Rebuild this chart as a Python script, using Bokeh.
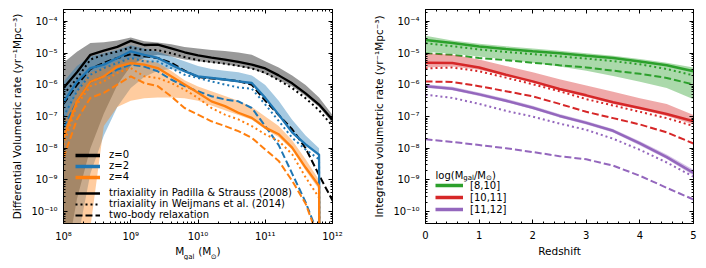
from bokeh.plotting import figure
from bokeh.layouts import row
from bokeh.models import (FixedTicker, LogAxis, LinearAxis, Legend, LegendItem,
                          Label, CustomJSTickFormatter, Range1d)
from bokeh.embed import file_html
from bokeh.resources import INLINE

FONT = "DejaVu Sans"

# ---------------- data: left panel (log10 of rate, yr^-1 Mpc^-3) ----------------
log_mass = [8.0, 8.2, 8.4, 8.6, 8.8, 9.0, 9.2, 9.4, 9.6, 9.8, 10.0,
            10.2, 10.4, 10.6, 10.8, 11.0, 11.2, 11.4, 11.6, 11.8, 12.0]
log_mass_cut = [8.0, 8.2, 8.4, 8.6, 8.8, 9.0, 9.2, 9.4, 9.6, 9.8, 10.0,
                10.2, 10.4, 10.6, 10.8, 11.0, 11.2, 11.4, 11.6, 11.8, 11.81]

z0_padilla = [-6.1, -5.6, -5.05, -4.92, -4.8, -4.61, -4.74, -4.73, -4.85, -4.97, -5.07,
              -5.14, -5.2, -5.27, -5.36, -5.48, -5.7, -5.95, -6.27, -6.62, -7.1]
z0_weijmans = [-6.3, -5.8, -5.2, -5.05, -4.95, -4.82, -4.9, -4.9, -5.0, -5.12, -5.22,
               -5.28, -5.33, -5.4, -5.48, -5.62, -5.85, -6.1, -6.42, -6.8, -7.3]
z0_twobody = [-6.6, -6.0, -5.5, -5.3, -5.15, -5.03, -5.1, -5.15, -5.3, -5.55, -5.75,
              -5.8, -5.83, -5.88, -6.0, -6.5, -6.95, -7.4, -8.0, -8.85, -9.65]
z0_band_hi = [-5.3, -4.95, -4.68, -4.65, -4.6, -4.5, -4.62, -4.66, -4.72, -4.8, -4.85,
              -4.9, -4.93, -4.98, -5.05, -5.25, -5.45, -5.7, -6.0, -6.4, -6.95]
z0_band_lo = [-12.0, -9.6, -8.0, -6.9, -6.0, -5.4, -5.15, -5.05, -5.1, -5.2, -5.25,
              -5.3, -5.35, -5.42, -5.5, -5.65, -5.85, -6.05, -6.35, -6.7, -7.2]

z2_padilla = [-6.55, -5.9, -5.47, -5.36, -5.15, -4.94, -5.05, -5.15, -5.36, -5.57, -5.73,
              -5.78, -5.83, -5.89, -5.94, -6.41, -6.94, -7.5, -7.88, -8.2, -13.0]
z2_weijmans = [-7.0, -6.2, -5.68, -5.47, -5.31, -5.15, -5.26, -5.26, -5.47, -5.68, -5.78,
               -5.89, -5.99, -6.08, -6.12, -6.62, -7.14, -7.67, -8.04, -8.35, -13.0]
z2_twobody = [-7.35, -6.52, -5.9, -5.73, -5.52, -5.36, -5.42, -5.57, -5.83, -6.04, -6.2,
              -6.36, -6.46, -6.52, -6.73, -7.3, -7.9, -8.8, -9.7, -10.8, -13.0]
z2_band_hi = [-5.9, -5.4, -5.1, -5.0, -4.9, -4.75, -4.85, -4.95, -5.1, -5.25, -5.4,
              -5.5, -5.55, -5.6, -5.7, -6.0, -6.5, -7.1, -7.6, -8.0, -13.0]
z2_band_lo = [-14.0, -11.0, -8.8, -7.6, -6.7, -6.1, -5.75, -5.55, -5.5, -5.6, -5.78,
              -5.82, -5.87, -5.92, -5.98, -6.45, -6.98, -7.55, -7.92, -8.25, -13.0]

z4_padilla = [-7.67, -6.52, -5.9, -5.73, -5.42, -5.31, -5.36, -5.47, -5.73, -5.99, -6.25,
              -6.52, -6.67, -6.88, -7.04, -7.35, -7.56, -7.98, -8.61, -9.19, -13.0]
z4_weijmans = [-7.9, -6.62, -6.04, -5.89, -5.62, -5.47, -5.73, -5.78, -5.94, -6.15, -6.41,
               -6.73, -6.94, -7.09, -7.3, -7.56, -7.77, -8.19, -8.92, -9.56, -13.0]
z4_twobody = [-8.3, -7.09, -6.41, -6.25, -5.99, -5.73, -5.94, -6.04, -6.36, -6.73, -6.94,
              -7.15, -7.3, -7.46, -7.67, -8.04, -8.4, -9.03, -9.75, -10.9, -13.0]
z4_band_hi = [-7.2, -6.2, -5.6, -5.45, -5.25, -5.15, -5.2, -5.3, -5.55, -5.85, -6.05,
              -6.2, -6.35, -6.5, -6.7, -7.0, -7.3, -7.75, -8.35, -9.0, -13.0]
z4_band_lo = [-14.0, -13.0, -10.5, -7.3, -6.7, -6.5, -6.42, -6.4, -6.4, -6.42, -6.5,
              -6.65, -6.8, -6.95, -7.1, -7.4, -7.65, -8.05, -8.7, -9.3, -13.0]

# ---------------- data: right panel ----------------
redshift = [0.0, 0.5, 1.0, 1.5, 2.0, 2.5, 3.0, 3.5, 4.0, 4.5, 5.0]

m8_10_padilla = [-4.58, -4.68, -4.79, -4.87, -4.94, -5.0, -5.08, -5.15, -5.26, -5.38, -5.57]
m8_10_weijmans = [-4.68, -4.78, -4.88, -4.96, -5.03, -5.1, -5.17, -5.25, -5.35, -5.5, -5.7]
m8_10_twobody = [-5.0, -5.05, -5.15, -5.22, -5.3, -5.38, -5.45, -5.55, -5.65, -5.78, -5.99]
m8_10_band_hi = [-4.45, -4.6, -4.7, -4.78, -4.85, -4.92, -5.0, -5.08, -5.18, -5.3, -5.45]
m8_10_band_lo = [-4.95, -5.02, -5.1, -5.2, -5.3, -5.42, -5.55, -5.72, -5.9, -6.1, -6.45]

m10_11_padilla = [-5.3, -5.31, -5.45, -5.68, -5.89, -6.13, -6.33, -6.55, -6.73, -6.92, -7.15]
m10_11_weijmans = [-5.48, -5.45, -5.57, -5.77, -5.98, -6.2, -6.45, -6.65, -6.85, -7.05, -7.3]
m10_11_twobody = [-5.89, -5.91, -6.04, -6.2, -6.36, -6.6, -6.85, -7.05, -7.25, -7.5, -7.85]
m10_11_band_hi = [-5.0, -5.05, -5.2, -5.4, -5.6, -5.82, -6.02, -6.22, -6.42, -6.6, -6.95]
m10_11_band_lo = [-5.45, -5.42, -5.52, -5.72, -5.93, -6.17, -6.38, -6.6, -6.78, -6.98, -7.25]

m11_12_padilla = [-6.04, -6.12, -6.3, -6.5, -6.72, -6.98, -7.2, -7.45, -7.85, -8.28, -8.78]
m11_12_weijmans = [-6.31, -6.41, -6.6, -6.82, -7.0, -7.22, -7.42, -7.7, -8.05, -8.45, -8.9]
m11_12_twobody = [-7.72, -7.8, -7.9, -8.0, -8.12, -8.25, -8.35, -8.55, -8.87, -9.25, -9.62]
m11_12_band_hi = [-5.98, -6.06, -6.24, -6.44, -6.66, -6.92, -7.14, -7.39, -7.78, -8.2, -8.68]
m11_12_band_lo = [-6.09, -6.17, -6.35, -6.55, -6.77, -7.03, -7.25, -7.5, -7.91, -8.34, -8.86]

x_ticks_left = [1e8, 1e9, 1e10, 1e11, 1e12]
y_ticks = [1e-10, 1e-9, 1e-8, 1e-7, 1e-6, 1e-5, 1e-4]
x_ticks_right = [0, 1, 2, 3, 4, 5]


def lin(vals):
    return [10.0 ** v for v in vals]


def log_minor(lo_exp, hi_exp):
    out = []
    for e in range(lo_exp, hi_exp):
        for k in range(2, 10):
            out.append(k * 10.0 ** e)
    return out


SUP = """
const s = {'-':'\u207b','0':'\u2070','1':'\u00b9','2':'\u00b2','3':'\u00b3','4':'\u2074',
           '5':'\u2075','6':'\u2076','7':'\u2077','8':'\u2078','9':'\u2079'};
const e = Math.round(Math.log10(tick));
return '10' + String(e).split('').map(c => s[c]).join('');
"""


def style_axis(ax, show_labels=True, standoff=6):
    ax.major_tick_in = 4
    ax.major_tick_out = 0
    ax.minor_tick_in = 2
    ax.minor_tick_out = 0
    ax.axis_line_color = "black"
    ax.major_tick_line_color = "black"
    ax.minor_tick_line_color = "black"
    ax.major_label_text_font = FONT
    ax.major_label_text_color = "black"
    ax.axis_label_text_font = FONT
    ax.axis_label_text_font_style = "normal"
    ax.axis_label_text_color = "black"
    ax.axis_label_text_font_size = "10.5px"
    if show_labels:
        ax.major_label_text_font_size = "10px"
        ax.major_label_standoff = standoff
    else:
        ax.major_label_text_font_size = "1px"
        ax.major_label_text_alpha = 0
        ax.major_label_standoff = 0


H = 260
Y_RANGE = (4.2e-11, 2.4e-4)
yt = FixedTicker(ticks=y_ticks, minor_ticks=log_minor(-11, -3))

# ================= left panel =================
p1 = figure(width=358, height=H, x_axis_type="log", y_axis_type="log",
            x_range=Range1d(1e8, 1e12), y_range=Range1d(*Y_RANGE),
            output_backend="svg", toolbar_location=None,
            min_border_left=63, min_border_right=26, min_border_top=9, min_border_bottom=37)
p1.grid.visible = False
p1.outline_line_color = "black"
p1.background_fill_color = "white"
xt1 = FixedTicker(ticks=x_ticks_left, minor_ticks=log_minor(8, 12))
p1.xaxis.ticker = xt1
p1.yaxis.ticker = yt
p1.xaxis.formatter = CustomJSTickFormatter(code=SUP)
p1.yaxis.formatter = CustomJSTickFormatter(code=SUP)
style_axis(p1.xaxis[0], standoff=7)
style_axis(p1.yaxis[0])
p1.xaxis.axis_label_standoff = 0
p1.yaxis.axis_label = "Differential Volumetric rate (yr\u207b\u00b9Mpc\u207b\u00b3)"
# main part of "M_gal (M_sun)"; the subscripts are added as separate labels below
p1.xaxis.axis_label = "M\u2003 (M\u2002)"
ax_top = LogAxis(ticker=xt1)
style_axis(ax_top, False)
p1.add_layout(ax_top, "above")
ax_right = LogAxis(ticker=yt)
style_axis(ax_right, False)
p1.add_layout(ax_right, "right")

mass = lin(log_mass)
mass_cut = lin(log_mass_cut)

BLUE = "#1f77b4"
ORANGE = "#ff7f0e"

p1.varea(x=mass, y1=lin(z0_band_lo), y2=lin(z0_band_hi), fill_color="black", fill_alpha=0.4)
p1.varea(x=mass_cut, y1=lin(z2_band_lo), y2=lin(z2_band_hi), fill_color=BLUE, fill_alpha=0.4)
p1.varea(x=mass_cut, y1=lin(z4_band_lo), y2=lin(z4_band_hi), fill_color=ORANGE, fill_alpha=0.4)

DASH = "7 3"
DOT = "2 3"
LW = 2
for col, xs, sol, dot, dash in [("black", mass, z0_padilla, z0_weijmans, z0_twobody),
                                 (BLUE, mass_cut, z2_padilla, z2_weijmans, z2_twobody),
                                 (ORANGE, mass_cut, z4_padilla, z4_weijmans, z4_twobody)]:
    p1.line(xs, lin(sol), line_color=col, line_width=LW + 0.3)
    p1.line(xs, lin(dot), line_color=col, line_width=LW, line_dash=DOT)
    p1.line(xs, lin(dash), line_color=col, line_width=LW, line_dash=DASH)

# legend-only handles, outside the visible ranges
OFF_L = dict(x=[1e3, 1e3], y=[1e-30, 1e-30])
lz0 = p1.line(line_color="black", line_width=3.5, **OFF_L)
lz2 = p1.line(line_color=BLUE, line_width=3.5, **OFF_L)
lz4 = p1.line(line_color=ORANGE, line_width=3.5, **OFF_L)
lpad = p1.line(line_color="black", line_width=2.5, **OFF_L)
lwei = p1.line(line_color="black", line_width=2, line_dash=DOT, **OFF_L)
ltwo = p1.line(line_color="black", line_width=2, line_dash=DASH, **OFF_L)


def make_legend(items, loc, gw, gh, standoff):
    return Legend(items=items, location=loc, glyph_width=gw, glyph_height=gh,
                  label_height=gh, label_standoff=standoff, spacing=0, padding=0,
                  margin=0, border_line_color=None, background_fill_alpha=0,
                  label_text_font=FONT, label_text_font_size="10px",
                  label_text_color="black")


leg1 = make_legend([LegendItem(label="z=0", renderers=[lz0]),
                    LegendItem(label="z=2", renderers=[lz2]),
                    LegendItem(label="z=4", renderers=[lz4])], (12, 41), 25, 10, 9)
leg2 = make_legend([LegendItem(label="triaxiality in Padilla & Strauss (2008)", renderers=[lpad]),
                    LegendItem(label="triaxiality in Weijmans et al. (2014)", renderers=[lwei]),
                    LegendItem(label="two-body relaxation", renderers=[ltwo])], (12, 3), 25, 10, 9)
p1.add_layout(leg1)
p1.add_layout(leg2)


def text_label(txt, fs, x, y):
    return Label(x=x, y=y, x_units="screen", y_units="screen",
                 text=txt, text_font=FONT, text_font_size=f"{fs}px",
                 text_baseline="alphabetic", text_align="left", text_color="black")


# subscripts of the x-axis label (side panel on the right, shifted under the axis label)
p1.add_layout(text_label("gal", 7, -148.8, -33.5), "right")
p1.add_layout(text_label("\u2299", 7, -132.7, -33.5), "right")

# ================= right panel =================
p2 = figure(width=340, height=H, y_axis_type="log",
            x_range=Range1d(0, 5), y_range=Range1d(*Y_RANGE),
            output_backend="svg", toolbar_location=None,
            min_border_left=67, min_border_right=5, min_border_top=9, min_border_bottom=37)
p2.grid.visible = False
p2.outline_line_color = "black"
xt2 = FixedTicker(ticks=x_ticks_right, minor_ticks=[i / 5 for i in range(26) if i % 5])
p2.xaxis.ticker = xt2
p2.yaxis.ticker = yt
p2.yaxis.formatter = CustomJSTickFormatter(code=SUP)
style_axis(p2.xaxis[0], standoff=7)
style_axis(p2.yaxis[0])
p2.xaxis.axis_label_standoff = 3
p2.xaxis.axis_label = "Redshift"
p2.yaxis.axis_label = "Integrated volumetric rate (yr\u207b\u00b9Mpc\u207b\u00b3)"
ax_top2 = LinearAxis(ticker=xt2)
style_axis(ax_top2, False)
p2.add_layout(ax_top2, "above")
ax_right2 = LogAxis(ticker=yt)
style_axis(ax_right2, False)
p2.add_layout(ax_right2, "right")

GREEN = "#2ca02c"
RED = "#d62728"
PURPLE = "#9467bd"
OFF_R = dict(x=[-10, -10], y=[1e-30, 1e-30])
handles = []
for col, sol, dot, dash, hi, lo in [
        (GREEN, m8_10_padilla, m8_10_weijmans, m8_10_twobody, m8_10_band_hi, m8_10_band_lo),
        (RED, m10_11_padilla, m10_11_weijmans, m10_11_twobody, m10_11_band_hi, m10_11_band_lo),
        (PURPLE, m11_12_padilla, m11_12_weijmans, m11_12_twobody, m11_12_band_hi, m11_12_band_lo)]:
    p2.varea(x=redshift, y1=lin(lo), y2=lin(hi), fill_color=col, fill_alpha=0.4)
    p2.line(redshift, lin(sol), line_color=col, line_width=2.5)
    p2.line(redshift, lin(dot), line_color=col, line_width=2, line_dash=DOT)
    p2.line(redshift, lin(dash), line_color=col, line_width=2, line_dash=DASH)
    handles.append(p2.line(line_color=col, line_width=3.5, **OFF_R))

leg3 = make_legend([LegendItem(label="[8,10]", renderers=[handles[0]]),
                    LegendItem(label="[10,11]", renderers=[handles[1]]),
                    LegendItem(label="[11,12]", renderers=[handles[2]])], (10, 8), 28, 12, 7)
p2.add_layout(leg3)
for txt, fs, dx, dy in [("log(M", 10, 0, 0), ("gal", 7, 27.8, -2.5), ("/M", 10, 38.5, 0),
                        ("\u2299", 7, 50.5, -2.5), (")", 10, 56.5, 0)]:
    p2.add_layout(text_label(txt, fs, 10 + dx, 48 + dy))

layout = row(p1, p2)
open("out.html", "w").write(file_html(layout, INLINE))
